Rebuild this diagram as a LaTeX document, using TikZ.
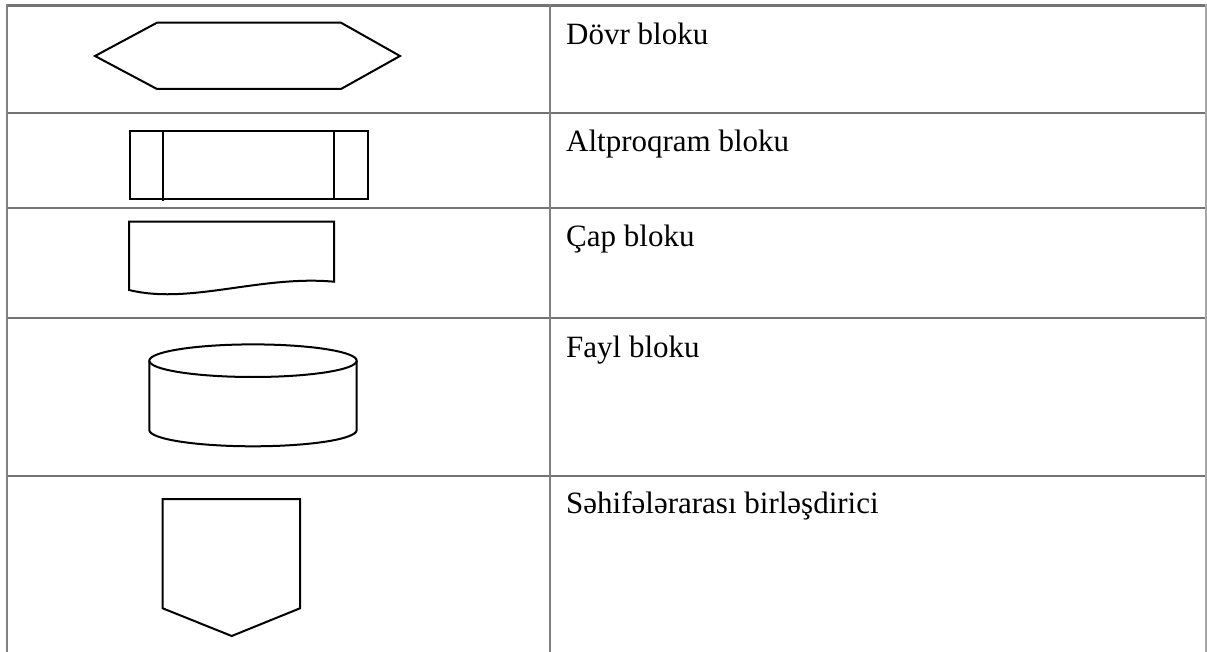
\documentclass[tikz,border=0pt]{standalone}
\usepackage{fontspec}
\setmainfont{Liberation Serif}
\begin{document}
\begin{tikzpicture}[x=1pt,y=-1pt,
  hrule/.style={draw=black!55,line width=2.4pt},
  vrule/.style={draw=black!50,line width=2pt},
  symb/.style={draw=black,line width=2pt,line join=miter},
  lbl/.style={anchor=base west,inner sep=0pt,font=\fontsize{31}{36}\selectfont}]
\useasboundingbox (0,0) rectangle (1207,652);
% table grid
\coordinate (tl) at (7,5.5);
\coordinate (tr) at (1206,5.5);
\draw[hrule] (tl) -- (tr);
\foreach \y in {113,208,318,476}{\draw[hrule] (7,\y) -- (1206,\y);}
\draw[vrule] (7,4.5) -- (7,652);
\draw[vrule] (550,4.5) -- (550,652);
\draw[draw=black!35,line width=1.2pt] (1206,4.5) -- (1206,652);
% row 1: hexagon
\draw[symb] (95,56) -- (157,22.7) -- (341,22.7) -- (400,56) -- (341,89) -- (157,89) -- cycle;
\node[lbl] (t1) at (566,45) {Dövr bloku};
% row 2: subroutine
\draw[symb] (130,130.7) rectangle (368,199.3);
\draw[symb] (162.7,130.7) -- (162.7,201);
\draw[symb] (334,130.7) -- (334,199.3);
\node[lbl] (t2) at (566,152) {Altproqram bloku};
% row 3: document
\draw[symb] (129,221.7) -- (334,221.7) -- (334,281.7)
  .. controls (260,275) and (190,305) .. (129,290) -- cycle;
\node[lbl] (t3) at (566,247) {Çap bloku};
% row 4: cylinder
\draw[symb] (253,360.7) ellipse [x radius=103.7pt, y radius=16.3pt];
\draw[symb] (149.3,360.7) -- (149.3,430)
  arc[start angle=180,end angle=360,x radius=103.7pt,y radius=16.3pt]
  -- (356.7,360.7);
\node[lbl] (t4) at (566,357) {Fayl bloku};
% row 5: off-page connector
\draw[symb] (162.7,499) -- (300,499) -- (300,608.3) -- (231.7,636) -- (162.7,608.3) -- cycle;
\node[lbl] (t5) at (566,513) {Səhifələrarası birləşdirici};
\end{tikzpicture}
\end{document}
